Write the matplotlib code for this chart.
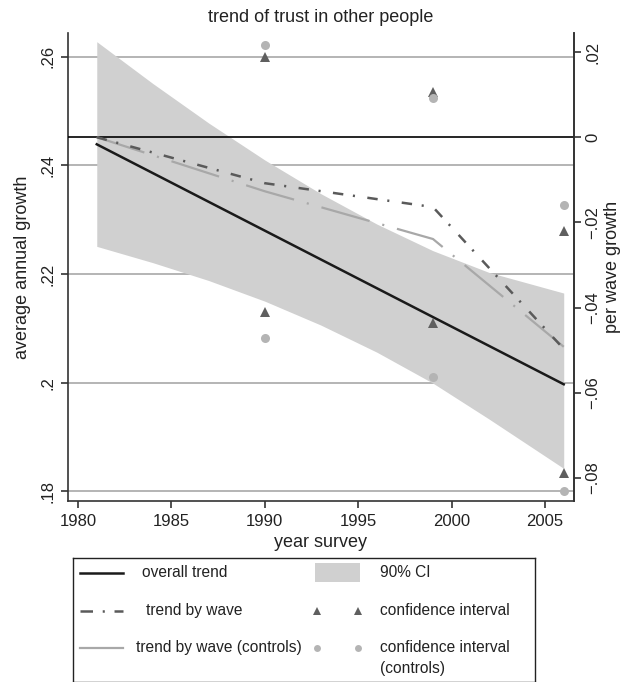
import matplotlib
matplotlib.use("Agg")
import matplotlib.pyplot as plt
from matplotlib.patches import Rectangle
from matplotlib.ticker import FuncFormatter

plt.rcParams['font.family'] = ['Liberation Sans', 'DejaVu Sans']
plt.rcParams['font.size'] = 12
plt.rcParams['lines.scale_dashes'] = False

# overall trend (left axis) and its 90% CI band
trend_years = [1981, 2006]
trend_vals = [0.2439, 0.1997]
band_years = [1981, 1984, 1987, 1990, 1993, 1996, 1999, 2002, 2006]
ci_upper = [0.2628, 0.2551, 0.2478, 0.2410, 0.2348, 0.2292, 0.2243, 0.2203, 0.2165]
ci_lower = [0.2251, 0.2221, 0.2188, 0.2150, 0.2106, 0.2056, 0.1999, 0.1933, 0.1842]

# per wave growth (right axis)
wave_years = [1981, 1990, 1999, 2006]
wave_trend = [0.0, -0.0108, -0.0164, -0.0497]
wave_trend_ctrl = [0.0, -0.0127, -0.0239, -0.0492]
ci_years = [1990, 1999, 2006]
tri_hi = [0.0188, 0.0106, -0.0221]
tri_lo = [-0.0411, -0.0436, -0.0788]
circ_hi = [0.0216, 0.0092, -0.0160]
circ_lo = [-0.0472, -0.0563, -0.0831]

left_ticks = [0.18, 0.20, 0.22, 0.24, 0.26]
right_ticks = [-0.08, -0.06, -0.04, -0.02, 0.0, 0.02]
x_ticks = [1980, 1985, 1990, 1995, 2000, 2005]

band_col = '#d0d0d0'
tri_col = '#5f5f5f'
circ_col = '#b4b4b4'
txt_col = '#222222'
dashdot = (0, (7.5, 7, 1.5, 9))
longdash = (0, (36, 9.5, 1.5, 9.5))
leg_fs = 11.2


def fmt(v, pos=None):
    if abs(v) < 1e-9:
        return '0'
    s = ('%.2f' % abs(v)).rstrip('0').lstrip('0')
    return ('\u2212' if v < 0 else '') + s


fig = plt.figure(figsize=(6.2, 6.82), dpi=100)
ax = fig.add_axes([68/620, 1-501/682, 506/620, 468/682])
ax2 = ax.twinx()

ax.set_xlim(1979.46, 2006.55)
ax.set_ylim(0.1782, 0.2644)
ax2.set_ylim(-0.0854, 0.02446)

ax.set_axisbelow(True)
ax.yaxis.grid(True, color='#a8a8a8', lw=1.2)
ax.fill_between(band_years, ci_lower, ci_upper, color=band_col, lw=0, zorder=1)
ax.plot(trend_years, trend_vals, color='#1a1a1a', lw=1.8, zorder=3)

ax2.axhline(0, color='black', lw=1.2, zorder=1)
ax2.plot(wave_years, wave_trend_ctrl, color='#a8a8a8', lw=1.6, linestyle=longdash, zorder=2)
ax2.plot(wave_years, wave_trend, color='#5a5a5a', lw=1.8, linestyle=dashdot, zorder=2)
ax2.plot(ci_years, tri_hi, '^', color=tri_col, ms=7, mew=0, zorder=4)
ax2.plot(ci_years, tri_lo, '^', color=tri_col, ms=7, mew=0, zorder=4)
ax2.plot(ci_years, circ_hi, 'o', color=circ_col, ms=6.5, mew=0, zorder=4)
ax2.plot(ci_years, circ_lo, 'o', color=circ_col, ms=6.5, mew=0, zorder=4)

ax.set_xticks(x_ticks)
ax.set_yticks(left_ticks)
ax2.set_yticks(right_ticks)
ax.yaxis.set_major_formatter(FuncFormatter(fmt))
ax2.yaxis.set_major_formatter(FuncFormatter(fmt))

for a in (ax, ax2):
    a.spines['top'].set_visible(False)
    for s in a.spines.values():
        s.set_color('#333333')
        s.set_linewidth(1.2)
ax2.spines['left'].set_visible(False)
ax2.spines['bottom'].set_visible(False)

ax.tick_params(axis='x', length=5, width=1.2, color='#333333', pad=4, labelcolor=txt_col)
ax.tick_params(axis='y', length=5, width=1.2, color='#333333', pad=4, labelcolor=txt_col)
ax2.tick_params(axis='y', length=5, width=1.2, color='#333333', pad=3, labelcolor=txt_col)
for lab in ax.get_yticklabels() + ax2.get_yticklabels():
    lab.set_rotation(90)
    lab.set_va('center')

ax.set_xlabel('year survey', labelpad=4, color=txt_col, fontsize=13)
ax.set_ylabel('average annual growth', labelpad=7, color=txt_col, fontsize=13)
ax2.set_ylabel('per wave growth', labelpad=3, color=txt_col, fontsize=13)
ax.set_title('trend of trust in other people', pad=8, color=txt_col, fontsize=13)

# legend box, drawn in its own axes measured in pixels from its top-left corner
lg = fig.add_axes([73/620, 0.5/682, 462/620, 124/682])
lg.set_xlim(0, 462)
lg.set_ylim(124, 0)
lg.set_xticks([])
lg.set_yticks([])
for s in lg.spines.values():
    s.set_color(txt_col)
    s.set_linewidth(1.0)

lg.plot([7, 50], [15, 15], color='#1a1a1a', lw=1.8)
lg.plot([7, 50], [53, 53], color='#5a5a5a', lw=1.8, linestyle=(0, (9, 7, 1.5, 7)))
lg.plot([7, 50], [90, 90], color='#a8a8a8', lw=1.6)
lg.add_patch(Rectangle((242, 5), 45, 19, facecolor=band_col, edgecolor='none'))
lg.plot([244, 285], [53, 53], '^', color=tri_col, ms=5.5, mew=0)
lg.plot([244, 285], [90, 90], 'o', color=circ_col, ms=5, mew=0)

lg.text(69, 15, 'overall trend', va='center', color=txt_col, fontsize=leg_fs)
lg.text(73, 53, 'trend by wave', va='center', color=txt_col, fontsize=leg_fs)
lg.text(63, 90, 'trend by wave (controls)', va='center', color=txt_col, fontsize=leg_fs)
lg.text(307, 15, '90% CI', va='center', color=txt_col, fontsize=leg_fs)
lg.text(307, 53, 'confidence interval', va='center', color=txt_col, fontsize=leg_fs)
lg.text(307, 90, 'confidence interval', va='center', color=txt_col, fontsize=leg_fs)
lg.text(307, 111, '(controls)', va='center', color=txt_col, fontsize=leg_fs)

fig.savefig('out.png', dpi=100)
